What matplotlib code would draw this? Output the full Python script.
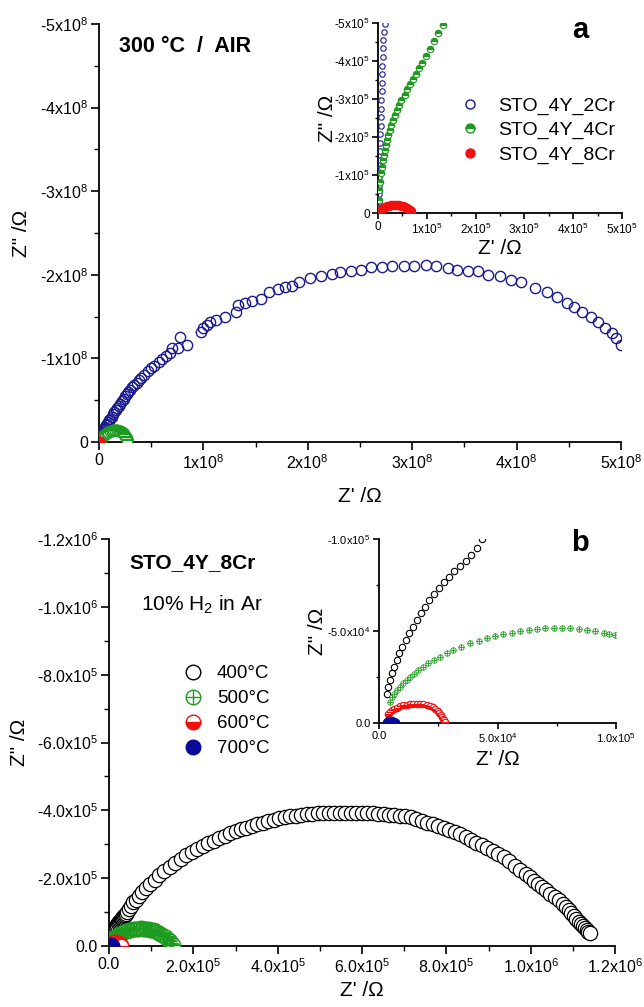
import numpy as np
import matplotlib
matplotlib.use("Agg")
import matplotlib.pyplot as plt
from matplotlib.ticker import MultipleLocator, FuncFormatter
from matplotlib.lines import Line2D

plt.rcParams['font.family'] = ['Liberation Sans', 'DejaVu Sans']
plt.rcParams['mathtext.default'] = 'regular'

# ---------------- Panel a data (300 C, air) ----------------
# STO_4Y_2Cr : high-frequency part (units 1e5 Ohm) + rest of arc (units 1e8 Ohm)
zre_2cr_hf = [0.014, 0.018, 0.022, 0.026, 0.03, 0.034, 0.038, 0.042, 0.046, 0.05, 0.055, 0.06,
              0.065, 0.07, 0.075, 0.08, 0.085, 0.09, 0.097, 0.104, 0.112, 0.122, 0.135]
zim_2cr_hf = [0.12, 0.3, 0.5, 0.72, 0.95, 1.18, 1.4, 1.62, 1.85, 2.07, 2.3, 2.52, 2.75, 2.97,
              3.2, 3.42, 3.65, 3.88, 4.1, 4.33, 4.55, 4.77, 4.98]
zre_2cr_lf = [0.002, 0.004, 0.007, 0.01, 0.014, 0.018, 0.023, 0.028, 0.034, 0.04, 0.047, 0.054,
              0.062, 0.07, 0.08, 0.09, 0.1, 0.11, 0.122, 0.135, 0.148, 0.162, 0.176, 0.19, 0.205,
              0.22, 0.235, 0.25, 0.265, 0.28, 0.3, 0.32, 0.34, 0.36, 0.38, 0.4, 0.43, 0.47, 0.5,
              0.53, 0.57, 0.6, 0.64, 0.68, 0.7, 0.76, 0.78, 0.84, 0.98, 1.0, 1.03, 1.06, 1.12,
              1.21, 1.31, 1.33, 1.40, 1.47, 1.55, 1.63, 1.71, 1.78, 1.85, 1.92, 2.02, 2.13, 2.23,
              2.31, 2.41, 2.51, 2.61, 2.71, 2.81, 2.92, 3.02, 3.13, 3.23, 3.34, 3.43, 3.53, 3.63,
              3.73, 3.84, 3.95, 4.04, 4.18, 4.29, 4.39, 4.48, 4.55, 4.63, 4.71, 4.78, 4.85, 4.91,
              4.95, 5.0]
zim_2cr_lf = [0.01, 0.02, 0.035, 0.05, 0.065, 0.08, 0.095, 0.11, 0.125, 0.14, 0.155, 0.17,
              0.185, 0.2, 0.22, 0.24, 0.26, 0.28, 0.305, 0.33, 0.355, 0.38, 0.405, 0.43, 0.46,
              0.49, 0.52, 0.545, 0.57, 0.595, 0.625, 0.655, 0.685, 0.71, 0.74, 0.765, 0.8, 0.845,
              0.88, 0.915, 0.955, 0.99, 1.03, 1.07, 1.12, 1.12, 1.26, 1.16, 1.32, 1.36, 1.40,
              1.43, 1.46, 1.5, 1.56, 1.64, 1.66, 1.69, 1.71, 1.79, 1.83, 1.85, 1.87, 1.91, 1.96,
              1.98, 2.01, 2.03, 2.05, 2.06, 2.09, 2.09, 2.10, 2.11, 2.11, 2.12, 2.10, 2.08, 2.06,
              2.05, 2.04, 2.0, 1.99, 1.94, 1.91, 1.84, 1.80, 1.74, 1.66, 1.62, 1.56, 1.50, 1.43,
              1.36, 1.30, 1.24, 1.16]

# STO_4Y_4Cr : high-frequency part (1e5 Ohm) + arc (1e7 Ohm)
zre_4cr_hf = [0.01, 0.02, 0.03, 0.05, 0.07, 0.08, 0.10, 0.12, 0.14, 0.16, 0.18, 0.21, 0.24, 0.27,
              0.31, 0.34, 0.39, 0.43, 0.48, 0.55, 0.60, 0.66, 0.72, 0.77, 0.84, 0.91, 0.98, 1.06,
              1.15, 1.23, 1.34]
zim_4cr_hf = [0.11, 0.33, 0.6, 0.82, 1.04, 1.21, 1.39, 1.52, 1.65, 1.79, 1.92, 2.05, 2.18, 2.32,
              2.45, 2.58, 2.71, 2.84, 2.98, 3.11, 3.26, 3.4, 3.52, 3.66, 3.81, 3.96, 4.12, 4.31,
              4.52, 4.74, 4.96]
zre_4cr_lf = [0.02, 0.03, 0.05, 0.08, 0.12, 0.17, 0.23, 0.3, 0.4, 0.5, 0.62, 0.75, 0.9, 1.05, 1.2,
              1.38, 1.55, 1.72, 1.88, 2.03, 2.17, 2.3, 2.42, 2.52, 2.6, 2.66, 2.7]
zim_4cr_lf = [0.06, 0.1, 0.17, 0.26, 0.35, 0.45, 0.55, 0.65, 0.77, 0.88, 0.99, 1.1, 1.2, 1.28,
              1.34, 1.38, 1.4, 1.39, 1.35, 1.28, 1.19, 1.07, 0.93, 0.77, 0.58, 0.39, 0.2]

# STO_4Y_8Cr (1e5 Ohm)
zre_8cr = [0.03, 0.05, 0.08, 0.11, 0.15, 0.19, 0.23, 0.27, 0.31, 0.35, 0.39, 0.43, 0.47, 0.51,
           0.55, 0.59, 0.62, 0.65, 0.67, 0.68]
zim_8cr = [0.03, 0.065, 0.1, 0.13, 0.16, 0.18, 0.195, 0.205, 0.21, 0.21, 0.208, 0.2, 0.19, 0.175,
           0.155, 0.13, 0.105, 0.075, 0.045, 0.015]

labels_a = ['STO_4Y_2Cr', 'STO_4Y_4Cr', 'STO_4Y_8Cr']

# ---------------- Panel b data (STO_4Y_8Cr, 10% H2 in Ar), units 1e5 Ohm ----------------
zre_400 = [0.035, 0.039, 0.046, 0.054, 0.063, 0.075, 0.086, 0.099, 0.113, 0.127, 0.142, 0.159,
           0.176, 0.194, 0.213, 0.232, 0.252, 0.275, 0.297, 0.318, 0.342, 0.366, 0.389, 0.413,
           0.434, 0.47, 0.52, 0.58, 0.63, 0.7, 0.78, 0.87, 0.97, 1.08, 1.19, 1.31, 1.44, 1.57,
           1.7, 1.83, 1.96, 2.09, 2.22, 2.35, 2.48, 2.61, 2.74, 2.87, 3.0, 3.13, 3.26, 3.39, 3.52,
           3.65, 3.78, 3.91, 4.04, 4.17, 4.3, 4.43, 4.56, 4.69, 4.82, 4.95, 5.08, 5.21, 5.34,
           5.47, 5.6, 5.73, 5.86, 5.99, 6.12, 6.25, 6.38, 6.51, 6.64, 6.77, 6.9, 7.03, 7.16,
           7.29, 7.42, 7.55, 7.68, 7.81, 7.94, 8.07, 8.2, 8.33, 8.46, 8.59, 8.71, 8.84, 8.97,
           9.1, 9.23, 9.36, 9.49, 9.62, 9.75, 9.88, 9.98, 10.08, 10.17, 10.27, 10.37, 10.47,
           10.57, 10.67, 10.76, 10.83, 10.9, 10.95, 11.02, 11.08, 11.15, 11.2, 11.25, 11.29,
           11.33, 11.37, 11.41]
zim_400 = [0.16, 0.196, 0.233, 0.27, 0.305, 0.342, 0.378, 0.415, 0.451, 0.487, 0.524, 0.56,
           0.596, 0.633, 0.669, 0.702, 0.733, 0.764, 0.796, 0.827, 0.855, 0.882, 0.915, 0.951,
           1.0, 1.1, 1.19, 1.29, 1.37, 1.47, 1.58, 1.71, 1.84, 1.96, 2.08, 2.2, 2.33, 2.45, 2.56,
           2.67, 2.77, 2.87, 2.95, 3.03, 3.11, 3.18, 3.25, 3.32, 3.38, 3.44, 3.49, 3.54, 3.59,
           3.64, 3.68, 3.72, 3.76, 3.79, 3.82, 3.84, 3.86, 3.88, 3.9, 3.91, 3.92, 3.93, 3.93,
           3.93, 3.93, 3.93, 3.93, 3.93, 3.92, 3.91, 3.9, 3.88, 3.87, 3.86, 3.84, 3.82, 3.79,
           3.74, 3.69, 3.64, 3.6, 3.55, 3.49, 3.43, 3.36, 3.3, 3.2, 3.12, 3.05, 2.98, 2.9, 2.81,
           2.72, 2.62, 2.52, 2.36, 2.25, 2.13, 2.03, 1.93, 1.83, 1.73, 1.64, 1.54, 1.44, 1.35,
           1.25, 1.15, 1.06, 0.96, 0.88, 0.8, 0.71, 0.64, 0.58, 0.52, 0.47, 0.42, 0.37]

zre_500 = [0.046, 0.054, 0.064, 0.075, 0.089, 0.103, 0.117, 0.131, 0.148, 0.166, 0.186, 0.208,
           0.232, 0.258, 0.285, 0.314, 0.348, 0.385, 0.42, 0.455, 0.49, 0.525, 0.56, 0.596,
           0.631, 0.666, 0.7, 0.737, 0.772, 0.807, 0.842, 0.877, 0.912, 0.948, 0.972, 0.997,
           1.03, 1.06, 1.1, 1.14, 1.18, 1.22, 1.26, 1.3, 1.34, 1.38, 1.42, 1.45, 1.48, 1.5, 1.52]
zim_500 = [0.115, 0.142, 0.16, 0.178, 0.197, 0.215, 0.233, 0.251, 0.269, 0.287, 0.305, 0.324,
           0.342, 0.36, 0.378, 0.396, 0.415, 0.433, 0.447, 0.46, 0.471, 0.482, 0.491, 0.5,
           0.506, 0.511, 0.514, 0.516, 0.516, 0.515, 0.51, 0.505, 0.498, 0.491, 0.485, 0.478,
           0.47, 0.46, 0.44, 0.42, 0.39, 0.36, 0.33, 0.3, 0.26, 0.22, 0.18, 0.14, 0.1, 0.06, 0.03]

zre_600 = [0.039, 0.047, 0.054, 0.064, 0.075, 0.089, 0.103, 0.117, 0.131, 0.145, 0.159, 0.173,
           0.187, 0.201, 0.215, 0.226, 0.237, 0.247, 0.255, 0.26, 0.265, 0.27, 0.275, 0.28]
zim_600 = [0.051, 0.06, 0.069, 0.077, 0.084, 0.09, 0.096, 0.1, 0.104, 0.105, 0.105, 0.104,
           0.102, 0.098, 0.093, 0.086, 0.078, 0.067, 0.055, 0.044, 0.033, 0.024, 0.015, 0.007]

zre_700 = [0.03, 0.033, 0.038, 0.044, 0.05, 0.056, 0.062, 0.067, 0.07]
zim_700 = [0.005, 0.01, 0.014, 0.016, 0.016, 0.014, 0.011, 0.007, 0.003]

labels_b = ['400°C', '500°C', '600°C', '700°C']

# ---------------- colours ----------------
C_NAVY = '#1a1a8f'
C_GREEN = '#1e9a1e'
C_RED = '#f01010'
C_BLUE = '#0a0a9a'

# build arrays in Ohm
x2 = np.concatenate([np.array(zre_2cr_hf) * 1e5, np.array(zre_2cr_lf) * 1e8])
y2 = -np.concatenate([np.array(zim_2cr_hf) * 1e5, np.array(zim_2cr_lf) * 1e8])
x4 = np.concatenate([np.array(zre_4cr_hf) * 1e5, np.array(zre_4cr_lf) * 1e7])
y4 = -np.concatenate([np.array(zim_4cr_hf) * 1e5, np.array(zim_4cr_lf) * 1e7])
x8 = np.array(zre_8cr) * 1e5
y8 = -np.array(zim_8cr) * 1e5

xb = [np.array(v) * 1e5 for v in (zre_400, zre_500, zre_600, zre_700)]
yb = [-np.array(v) * 1e5 for v in (zim_400, zim_500, zim_600, zim_700)]


def sci_fmt(dec, zero):
    def f(v, pos):
        if abs(v) < 1e-12:
            return zero
        e = int(np.floor(np.log10(abs(v)) + 1e-9))
        m = v / 10 ** e
        return ("%.*f" % (dec, m)) + "x10$^{%d}$" % e
    return FuncFormatter(f)


def style_axes(ax, fs, maj, minr, dec, zero, ticklen=6):
    for s in ('top', 'right'):
        ax.spines[s].set_visible(False)
    for s in ('left', 'bottom'):
        ax.spines[s].set_linewidth(1.3)
    ax.xaxis.set_major_locator(MultipleLocator(maj[0]))
    ax.xaxis.set_minor_locator(MultipleLocator(minr[0]))
    ax.yaxis.set_major_locator(MultipleLocator(maj[1]))
    ax.yaxis.set_minor_locator(MultipleLocator(minr[1]))
    ax.xaxis.set_major_formatter(sci_fmt(dec, zero))
    ax.yaxis.set_major_formatter(sci_fmt(dec, zero))
    ax.tick_params(which='major', direction='out', length=ticklen, width=1.2, labelsize=fs, pad=2)
    ax.tick_params(which='minor', direction='out', length=ticklen * 0.55, width=1.0)
    ax.tick_params(top=False, right=False)


fig = plt.figure(figsize=(6.44, 10.07), dpi=100)
W, H = 644.0, 1007.0


def px_axes(x0, y0, x1, y1):
    return fig.add_axes([x0 / W, 1 - y1 / H, (x1 - x0) / W, (y1 - y0) / H])


def place_labels(ax, box, xtop, yright, fs):
    x0, y0, x1, y1 = box
    ax.set_xlabel("Z' /Ω", fontsize=fs)
    ax.set_ylabel('Z" /Ω', fontsize=fs)
    ax.xaxis.set_label_coords(0.5, (y1 - xtop) / (y1 - y0))
    ax.yaxis.set_label_coords((yright - x0) / (x1 - x0), 0.5)


# ---------------- Panel a main ----------------
box_a = (99, 24, 621, 442)
axa = px_axes(*box_a)
ms_a = 7.4
axa.plot(x2, y2, 'o', ls='none', ms=ms_a, mfc='none', mec=C_NAVY, mew=1.0, zorder=3)
axa.plot(x4, y4, 'o', ls='none', ms=7.8, fillstyle='top', mfc=C_GREEN, mfcalt='white',
         mec=C_GREEN, mew=1.0, zorder=4)
axa.plot(x8, y8, 'o', ls='none', ms=ms_a, mfc=C_RED, mec=C_RED, mew=1.0, zorder=5)
axa.set_xlim(0, 5e8)
axa.set_ylim(0, -5e8)
style_axes(axa, 11.5, (1e8, 1e8), (5e7, 5e7), 0, '0')
place_labels(axa, box_a, 487, 31, 15)
fig.text(119 / W, 1 - 47 / H, '300 °C  /  AIR', fontsize=15.5, fontweight='bold',
         ha='left', va='center')
fig.text(580 / W, 1 - 30 / H, 'a', fontsize=21, fontweight='bold', ha='center', va='center')

# legend a
ha1 = Line2D([], [], ls='none', marker='o', ms=6.5, mfc='none', mec=C_NAVY, mew=1.0)
ha2 = Line2D([], [], ls='none', marker='o', ms=6.5, fillstyle='top', mfc=C_GREEN,
             mfcalt='white', mec=C_GREEN, mew=1.0)
ha3 = Line2D([], [], ls='none', marker='o', ms=6.5, mfc=C_RED, mec=C_RED, mew=1.0)
fig.legend([ha1, ha2, ha3], labels_a, loc='upper left', bbox_to_anchor=(460 / W, 1 - 97 / H),
           frameon=False, fontsize=14, handlelength=1.0, handletextpad=0.95,
           labelspacing=0.35, borderpad=0, borderaxespad=0)

# ---------------- Panel a inset ----------------
box_ai = (378, 23, 622, 213)
axai = px_axes(*box_ai)
axai.plot(x2, y2, 'o', ls='none', ms=3.9, mfc='none', mec=C_NAVY, mew=0.8, zorder=3)
axai.plot(x4, y4, 'o', ls='none', ms=4.6, fillstyle='top', mfc=C_GREEN, mfcalt='white',
          mec=C_GREEN, mew=0.8, zorder=4)
axai.plot(x8, y8, 'o', ls='none', ms=6.0, mfc=C_RED, mec=C_RED, mew=0.8, zorder=5)
axai.set_xlim(0, 5e5)
axai.set_ylim(0, -5e5)
style_axes(axai, 8.5, (1e5, 1e5), (5e4, 5e4), 0, '0', ticklen=4)
place_labels(axai, box_ai, 239, 337, 15)
axai.patch.set_alpha(0)

# ---------------- Panel b main ----------------
box_b = (109, 539, 615, 946)
axb = px_axes(*box_b)
ms_b = 10.3
axb.plot(xb[0], yb[0], 'o', ls='none', ms=ms_b, mfc='white', mec='black', mew=0.9, zorder=3)
axb.plot(xb[1], yb[1], 'o', ls='none', ms=ms_b, mfc='white', mec=C_GREEN, mew=1.0, zorder=4)
axb.plot(xb[1], yb[1], '+', ls='none', ms=ms_b, mec=C_GREEN, mew=1.0, zorder=4)
axb.plot(xb[2], yb[2], 'o', ls='none', ms=ms_b, fillstyle='bottom', mfc=C_RED, mfcalt='white',
         mec=C_RED, mew=0.9, zorder=5)
axb.plot(xb[3], yb[3], 'o', ls='none', ms=ms_b, mfc=C_BLUE, mec=C_BLUE, mew=0.9, zorder=6)
axb.set_xlim(0, 1.2e6)
axb.set_ylim(0, -1.2e6)
style_axes(axb, 11.5, (2e5, 2e5), (1e5, 1e5), 1, '0.0')
place_labels(axb, box_b, 981, 29, 15)
fig.text(129 / W, 1 - 563 / H, 'STO_4Y_8Cr', fontsize=15, fontweight='bold',
         ha='left', va='center')
fig.text(141 / W, 1 - 605 / H, '10% H$_2$ in Ar', fontsize=15, ha='left', va='center')
fig.text(580 / W, 1 - 543 / H, 'b', fontsize=21, fontweight='bold', ha='center', va='center')

# legend b
hb1 = Line2D([], [], ls='none', marker='o', ms=10.5, mfc='white', mec='black', mew=1.0)
hb2a = Line2D([], [], ls='none', marker='o', ms=10.5, mfc='white', mec=C_GREEN, mew=1.0)
hb2b = Line2D([], [], ls='none', marker='+', ms=10.5, mec=C_GREEN, mew=1.0)
hb3 = Line2D([], [], ls='none', marker='o', ms=10.5, fillstyle='bottom', mfc=C_RED,
             mfcalt='white', mec=C_RED, mew=1.0)
hb4 = Line2D([], [], ls='none', marker='o', ms=10.5, mfc=C_BLUE, mec=C_BLUE, mew=1.0)
fig.legend([hb1, (hb2a, hb2b), hb3, hb4], labels_b, loc='upper left',
           bbox_to_anchor=(184 / W, 1 - 665 / H), frameon=False, fontsize=13.5,
           handlelength=1.0, handletextpad=0.75, labelspacing=0.42, borderpad=0,
           borderaxespad=0)

# ---------------- Panel b inset ----------------
box_bi = (379, 539, 616, 723)
axbi = px_axes(*box_bi)
axbi.plot(xb[0], yb[0], 'o', ls='none', ms=4.6, mfc='white', mec='black', mew=0.8, zorder=3)
axbi.plot(xb[1], yb[1], 'o', ls='none', ms=3.9, mfc='white', mec=C_GREEN, mew=0.6, zorder=4)
axbi.plot(xb[1], yb[1], '+', ls='none', ms=3.9, mec=C_GREEN, mew=0.6, zorder=4)
axbi.plot(xb[2], yb[2], 'o', ls='none', ms=4.6, fillstyle='bottom', mfc=C_RED, mfcalt='white',
          mec=C_RED, mew=0.8, zorder=5)
axbi.plot(xb[3], yb[3], 'o', ls='none', ms=4.6, mfc=C_BLUE, mec=C_BLUE, mew=0.8, zorder=6)
axbi.set_xlim(0, 1e5)
axbi.set_ylim(0, -1e5)
style_axes(axbi, 8, (5e4, 5e4), (2.5e4, 2.5e4), 1, '0.0', ticklen=4)
place_labels(axbi, box_bi, 750, 327, 15)
axbi.patch.set_alpha(0)

fig.savefig('out.png', dpi=100, facecolor='white')
